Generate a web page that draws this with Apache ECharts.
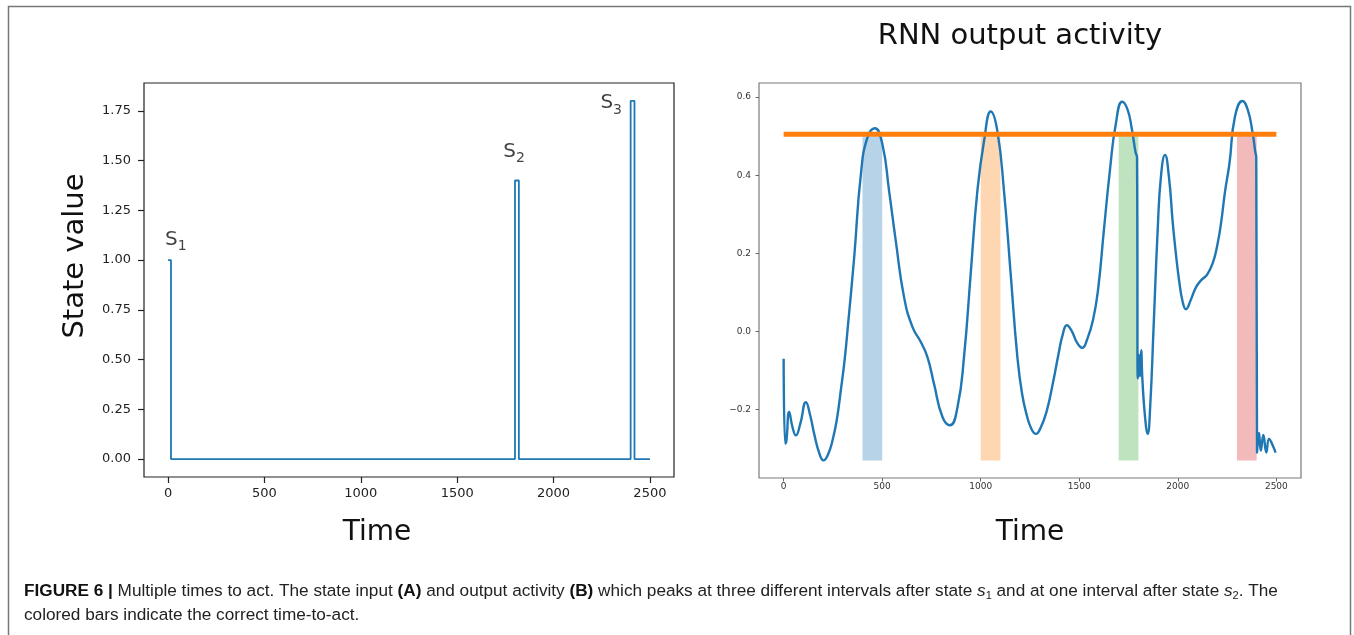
<!DOCTYPE html>
<html>
<head>
<meta charset="utf-8">
<script src="https://cdn.jsdelivr.net/npm/echarts@6/dist/echarts.min.js"></script>
<style>
  html, body { margin: 0; padding: 0; background: #fff; }
  #chart { width: 1354px; height: 635px; }
</style>
</head>
<body>
<div id="chart"></div>
<script>
// (A) state input, drawn as a step line
const stateTime = [0, 15, 1800, 1820, 2400, 2420, 2500];
const stateValue = [1.0, 0, 1.4, 0, 1.8, 0, 0];
const stateTicksX = [0, 500, 1000, 1500, 2000, 2500];
const stateTicksY = [0, 0.25, 0.5, 0.75, 1.0, 1.25, 1.5, 1.75];
// S1 / S2 / S3 annotations (anchor = bottom-left of label, in data units)
const stateNames = ["1", "2", "3"];
const stateNameX = [-16, 1739, 2243];
const stateNameY = [1.033, 1.476, 1.718];

// (B) RNN output activity
const rnnTime = [0, 8, 14, 28, 45, 62, 85, 113, 135, 155, 180, 202, 225, 248, 270, 290, 310, 327, 358, 392,
  425, 463, 501, 535, 569, 611, 654, 696, 730, 763, 806, 844, 882, 915, 949, 983, 1017, 1051, 1084, 1118,
  1152, 1186, 1210, 1234, 1258, 1280, 1305, 1334, 1365, 1395, 1415, 1437, 1460, 1490, 1515, 1540,
  1570, 1596, 1625, 1656, 1685, 1718, 1745, 1766, 1785, 1793, 1797, 1803, 1808, 1814, 1820, 1833, 1847, 1860, 1877, 1898,
  1915, 1935, 1955, 1974, 1990, 2008, 2025, 2041, 2065, 2092, 2120, 2148, 2177, 2200, 2220, 2240, 2262, 2290, 2328, 2355,
  2379, 2393, 2398, 2402, 2412, 2421, 2434, 2449, 2463, 2480, 2496];
const rnnValue = [-0.07, -0.287, -0.28, -0.206, -0.245, -0.266, -0.235, -0.181, -0.215, -0.262, -0.31, -0.33, -0.315, -0.279, -0.225, -0.151, -0.07, 0.019, 0.19, 0.403,
  0.496, 0.52, 0.479, 0.36, 0.232, 0.088, 0.011, -0.027, -0.066, -0.134, -0.219, -0.24, -0.194, -0.066, 0.147, 0.36, 0.488, 0.563, 0.514, 0.36,
  0.147, -0.066, -0.16, -0.215, -0.25, -0.262, -0.245, -0.205, -0.135, -0.057, -0.01, 0.016, 0.003, -0.03, -0.042, -0.02,
  0.03, 0.11, 0.26, 0.415, 0.53, 0.588, 0.568, 0.52, 0.46, 0.445, -0.12, -0.06, -0.115, -0.048, -0.12, -0.215, -0.262, -0.19, 0.01, 0.262,
  0.40, 0.452, 0.395, 0.28, 0.2, 0.125, 0.075, 0.057, 0.08, 0.113, 0.132, 0.145, 0.175, 0.22, 0.28, 0.36, 0.43, 0.55, 0.59, 0.567,
  0.51, 0.46, 0.445, -0.31, -0.26, -0.305, -0.265, -0.31, -0.275, -0.29, -0.31];
const thresholdTime = [0, 2500];
const thresholdValue = 0.505;
// colored bars = correct time-to-act
const actStart = [400, 1000, 1700, 2300];
const actEnd = [500, 1100, 1800, 2400];
const actBottom = -0.33;
const actTop = 0.5;
const actColors = ["rgba(31,119,180,0.32)", "rgba(255,127,14,0.32)", "rgba(44,160,44,0.3)", "rgba(214,39,40,0.32)"];
const rnnTicksX = [0, 500, 1000, 1500, 2000, 2500];
const rnnTicksY = [-0.2, 0, 0.2, 0.4, 0.6];

const FONT = "DejaVu Sans";
const BLUE = "#1f77b4";

const myChart = echarts.init(document.getElementById("chart"), null, { renderer: "canvas" });

const option = {
  animation: false,
  backgroundColor: "#fff",
  grid: [
    { left: 144, top: 83, width: 530, height: 394, show: true, borderColor: "#222", borderWidth: 1.2, backgroundColor: "transparent" },
    { left: 759, top: 83, width: 542, height: 395, show: true, borderColor: "#7a7a7a", borderWidth: 1.2, backgroundColor: "transparent" },
  ],
  xAxis: [
    {
      gridIndex: 0, type: "value", min: -125, max: 2625,
      name: "Time", nameLocation: "middle", nameGap: 56,
      nameTextStyle: { fontFamily: FONT, fontSize: 28, color: "#111", verticalAlign: "middle", padding: [0, 64, 0, 0] },
      axisLine: { show: false, onZero: false },
      splitLine: { show: false },
      axisTick: { show: true, length: 6, customValues: stateTicksX, lineStyle: { color: "#222", width: 1.2 } },
      axisLabel: { customValues: stateTicksX, margin: 10, fontFamily: FONT, fontSize: 13, color: "#222",
        formatter: (v) => String(v) },
    },
    {
      gridIndex: 1, type: "value", min: -125, max: 2625,
      name: "Time", nameLocation: "middle", nameGap: 55,
      nameTextStyle: { fontFamily: FONT, fontSize: 28, color: "#111", verticalAlign: "middle" },
      axisLine: { show: false, onZero: false },
      splitLine: { show: false },
      axisTick: { show: true, length: 3.5, customValues: rnnTicksX, lineStyle: { color: "#666", width: 1 } },
      axisLabel: { customValues: rnnTicksX, margin: 4, fontFamily: FONT, fontSize: 9, color: "#333",
        formatter: (v) => String(v) },
    },
  ],
  yAxis: [
    {
      gridIndex: 0, type: "value", min: -0.09, max: 1.89,
      name: "State value", nameLocation: "middle", nameGap: 69, nameRotate: 90,
      nameTextStyle: { fontFamily: FONT, fontSize: 29, color: "#111", align: "center", verticalAlign: "middle", padding: [0, 0, 0, 48] },
      axisLine: { show: false, onZero: false },
      splitLine: { show: false },
      axisTick: { show: true, length: 6, customValues: stateTicksY, lineStyle: { color: "#222", width: 1.2 } },
      axisLabel: { customValues: stateTicksY, margin: 13, fontFamily: FONT, fontSize: 13, color: "#222",
        formatter: (v) => v.toFixed(2) },
    },
    {
      gridIndex: 1, type: "value", min: -0.375, max: 0.636,
      axisLine: { show: false, onZero: false },
      splitLine: { show: false },
      axisTick: { show: true, length: 3.5, customValues: rnnTicksY, lineStyle: { color: "#666", width: 1 } },
      axisLabel: { customValues: rnnTicksY, margin: 8, fontFamily: FONT, fontSize: 9, color: "#333",
        formatter: (v) => v.toFixed(1).replace("-", "\u2212") },
    },
  ],
  series: [
    {
      name: "state",
      type: "line",
      xAxisIndex: 0, yAxisIndex: 0,
      step: "end",
      symbol: "none",
      lineStyle: { color: BLUE, width: 1.8 },
      data: stateTime.map((t, i) => [t, stateValue[i]]),
      z: 3,
    },
    {
      name: "state labels",
      type: "scatter",
      xAxisIndex: 0, yAxisIndex: 0,
      symbolSize: 0,
      silent: true,
      data: stateNames.map((n, i) => ({ value: [stateNameX[i], stateNameY[i]], name: n })),
      label: {
        show: true,
        position: [0, 0],
        align: "left",
        verticalAlign: "bottom",
        formatter: (p) => "{s|S}{sub|" + p.name + "}",
        rich: {
          s: { fontFamily: FONT, fontSize: 20, lineHeight: 24, color: "#111", verticalAlign: "top" },
          sub: { fontFamily: FONT, fontSize: 14, lineHeight: 14, color: "#111", verticalAlign: "bottom" },
        },
      },
      z: 4,
    },
    {
      name: "time-to-act",
      type: "line",
      xAxisIndex: 1, yAxisIndex: 1,
      data: [],
      markArea: {
        silent: true,
        data: actStart.map((s, i) => [
          { coord: [s, actBottom], itemStyle: { color: actColors[i] } },
          { coord: [actEnd[i], actTop] },
        ]),
      },
      z: 1,
    },
    {
      name: "output",
      type: "line",
      xAxisIndex: 1, yAxisIndex: 1,
      smooth: 0.5,
      symbol: "none",
      lineStyle: { color: BLUE, width: 2.4 },
      data: rnnTime.map((t, i) => [t, rnnValue[i]]),
      z: 3,
    },
    {
      name: "threshold",
      type: "line",
      xAxisIndex: 1, yAxisIndex: 1,
      symbol: "none",
      lineStyle: { color: "#ff7f0e", width: 5, cap: "butt" },
      data: thresholdTime.map((t) => [t, thresholdValue]),
      z: 4,
    },
  ],
  graphic: [
    {
      type: "rect",
      shape: { x: 8.5, y: 6.5, width: 1342, height: 660 },
      style: { fill: "none", stroke: "#777", lineWidth: 1.5 },
      silent: true,
    },
    {
      type: "text",
      x: 1020, y: 36,
      style: { text: "RNN output activity", fontFamily: FONT, fontSize: 29, fill: "#111", textAlign: "center", textVerticalAlign: "middle" },
      silent: true,
    },
    {
      type: "text",
      x: 24, y: 591,
      style: {
        text: "{b|FIGURE 6 |} Multiple times to act. The state input {b|(A)} and output activity {b|(B)} which peaks at three different intervals after state {i|s}{sub|1} and at one interval after state {i|s}{sub|2}. The",
        fontFamily: "Liberation Sans", fontSize: 17.2, fill: "#222",
        textVerticalAlign: "middle",
        rich: {
          b: { fontFamily: "Liberation Sans", fontSize: 17.2, fontWeight: "bold", fill: "#111" },
          i: { fontFamily: "Liberation Sans", fontSize: 17.2, fontStyle: "italic", fill: "#222" },
          sub: { fontFamily: "Liberation Sans", fontSize: 11, fill: "#222", padding: [9, 0, 0, 0] },
        },
      },
      silent: true,
    },
    {
      type: "text",
      x: 24, y: 615,
      style: {
        text: "colored bars indicate the correct time-to-act.",
        fontFamily: "Liberation Sans", fontSize: 17.2, fill: "#222",
        textVerticalAlign: "middle",
      },
      silent: true,
    },
  ],
};

myChart.setOption(option);
window.addEventListener("resize", function () {
  myChart.resize();
});
</script>
</body>
</html>
